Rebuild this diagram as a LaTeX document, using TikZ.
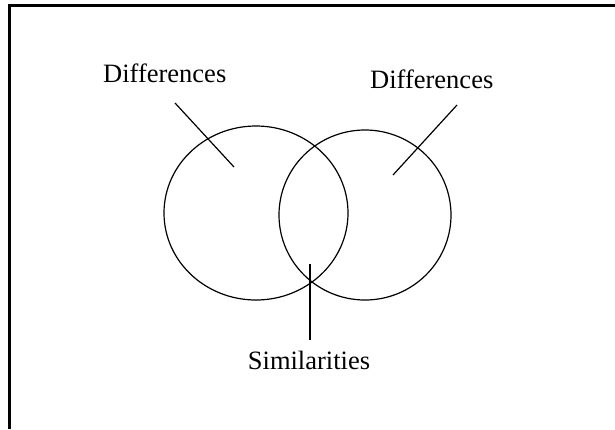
\documentclass[tikz,border=0pt]{standalone}
\usepackage{fontspec}
\setmainfont{Liberation Serif}
\begin{document}
\begin{tikzpicture}[x=1pt,y=-1pt,
  lbl/.style={inner sep=0pt,font=\fontsize{26.5}{30}\selectfont},
  ln/.style={line width=1.2pt},
  frame/.style={line width=3pt}]
\useasboundingbox (0,0) rectangle (615,429);
% frame (top and left edges)
\draw[frame] (9.5,429) -- (9.5,5.5) -- (615,5.5);
% circles
\draw[ln] (256,213) ellipse [x radius=92, y radius=87];
\draw[ln] (365,215) ellipse [x radius=86, y radius=85];
% labels
\node[lbl,anchor=base west] (dl) at (103,82) {Differences};
\node[lbl,anchor=base west] (dr) at (370,88) {Differences};
\node[lbl,anchor=base] (sim) at (309,369) {Similarities};
% pointers
\coordinate (l1) at (175,103);
\coordinate (l2) at (234,167);
\coordinate (r1) at (457,105);
\coordinate (r2) at (393,175);
\coordinate (s1) at (310,264);
\coordinate (s2) at (310,340);
\draw[ln] (l1) -- (l2);
\draw[ln] (r1) -- (r2);
\draw[ln] (s1) -- (s2);
\end{tikzpicture}
\end{document}
